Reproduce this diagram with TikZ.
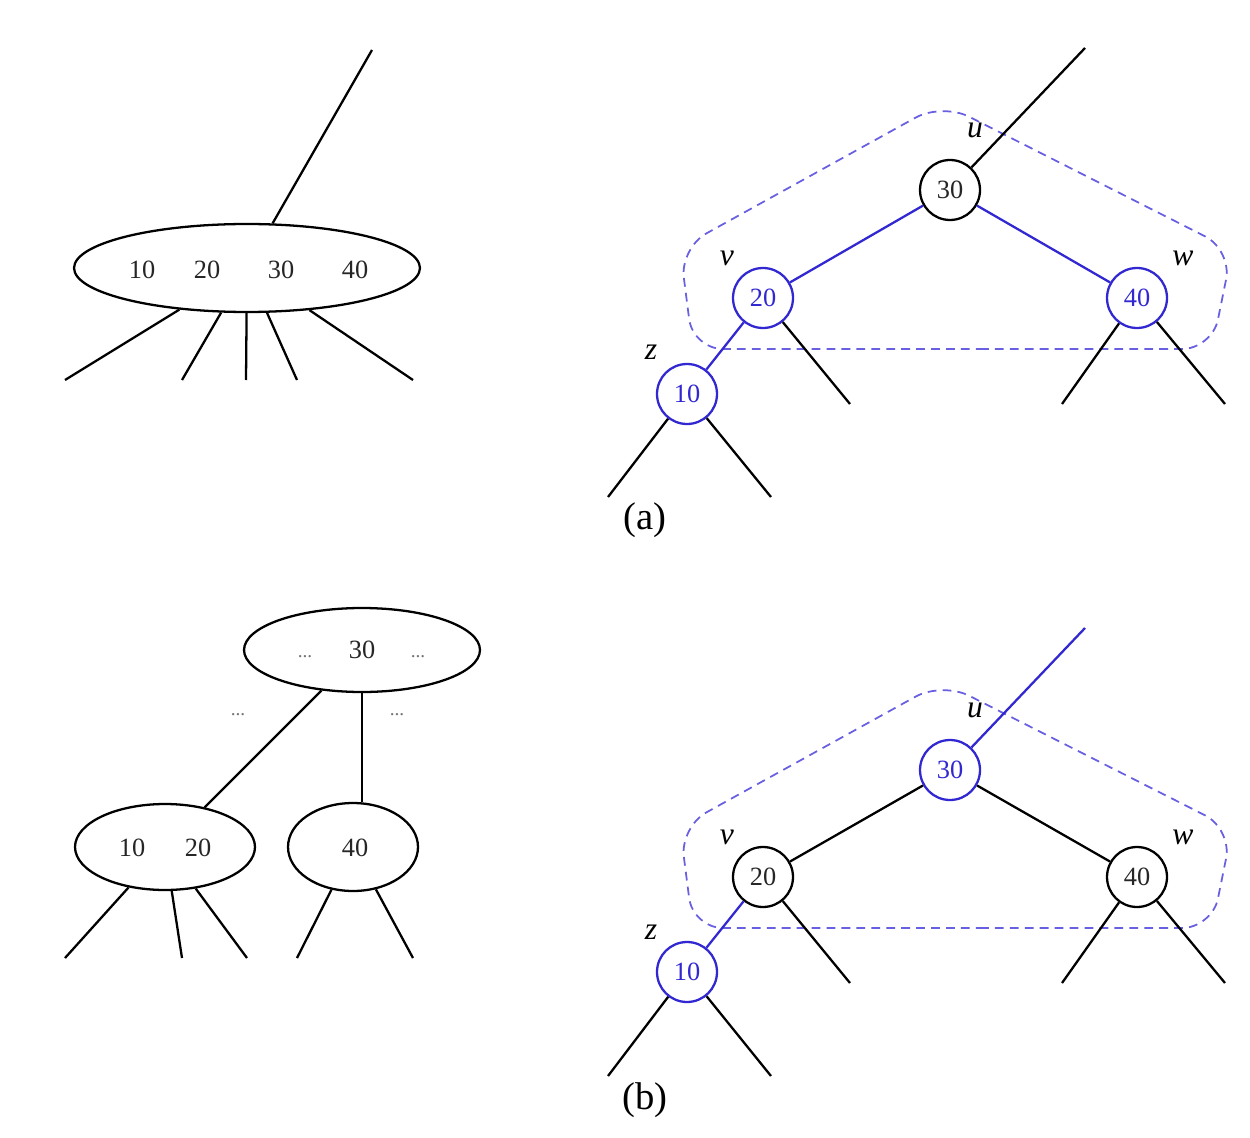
\documentclass[tikz,border=0pt]{standalone}
\usepackage{fontspec}
\setmainfont{Liberation Serif}
\usetikzlibrary{shapes.geometric}

\definecolor{treeblue}{RGB}{50,40,210}
\definecolor{dashblue}{RGB}{105,95,225}

\begin{document}
\begin{tikzpicture}[
  x=0.02cm, y=-0.02cm,
  numtxt/.style={font=\fontsize{15}{17}\selectfont, text=black!85, inner sep=0pt},
  dots/.style={font=\fontsize{11}{13}\selectfont, text=black!55, inner sep=0pt},
  bnode/.style={ellipse, draw, line width=1.3pt, inner sep=0pt},
  rb/.style={circle, draw, line width=1.3pt, minimum size=1.2cm, inner sep=0pt, fill=white, font=\fontsize{15}{17}\selectfont, text=black!85},
  hl/.style={draw=treeblue, text=treeblue},
  link/.style={line width=1.3pt},
  hllink/.style={link, draw=treeblue},
  lbl/.style={font=\fontsize{18}{20}\selectfont\itshape, inner sep=0pt},
  cluster/.style={draw=dashblue, dash pattern=on 5pt off 3.5pt, line width=1pt, rounded corners=0.6cm},
  subcap/.style={font=\fontsize{22}{24}\selectfont, inner sep=0pt}
]
  \useasboundingbox (0,0) rectangle (1250,1138);

  % (a) left: one 5-node
  \node[bnode, minimum width=6.92cm, minimum height=1.76cm] (big) at (247,268) {};
  \node[numtxt] at (142,270) {10};
  \node[numtxt] at (207,270) {20};
  \node[numtxt] at (281,270) {30};
  \node[numtxt] at (355,270) {40};
  \coordinate (bigp) at (372,50);
  \draw[link] (big) -- (bigp);
  \foreach \x [count=\i] in {65,182,246,297,413} {
    \coordinate (bigc\i) at (\x,380);
    \draw[link] (big) -- (bigc\i);
  }

  % (a) right: red-black tree
  \draw[cluster] (950,349) -- (1212,349) -- (1232,250) -- (942,103) -- (680,248) -- (693,349) -- cycle;
  \node[rb] (ua) at (950,190) {30};
  \node[rb, hl] (va) at (763,298) {20};
  \node[rb, hl] (wa) at (1137,298) {40};
  \node[rb, hl] (za) at (687,394) {10};
  \coordinate (pua) at (1085,48);
  \coordinate (vra) at (850,404);
  \coordinate (wla) at (1062,404);
  \coordinate (wra) at (1225,404);
  \coordinate (zla) at (608,497);
  \coordinate (zra) at (771,497);
  \draw[link] (ua) -- (pua);
  \draw[hllink] (ua) -- (va);
  \draw[hllink] (ua) -- (wa);
  \draw[hllink] (va) -- (za);
  \draw[link] (va) -- (vra);
  \draw[link] (wa) -- (wla);
  \draw[link] (wa) -- (wra);
  \draw[link] (za) -- (zla);
  \draw[link] (za) -- (zra);
  \node[lbl] at (975,130) {u};
  \node[lbl] at (727,258) {v};
  \node[lbl] at (1183,258) {w};
  \node[lbl] at (651,352) {z};
  \node[subcap] at (645,520) {(a)};

  % (b) left: split 2-3-4 nodes
  \node[bnode, minimum width=4.72cm, minimum height=1.68cm] (top) at (362,650) {};
  \node[dots] at (305,657) {...};
  \node[numtxt] at (362,650) {30};
  \node[dots] at (418,657) {...};
  \node[dots] at (238,715) {...};
  \node[dots] at (397,715) {...};
  \node[bnode, minimum width=3.6cm, minimum height=1.72cm] (pair) at (165,847) {};
  \node[numtxt] at (132,848) {10};
  \node[numtxt] at (198,848) {20};
  \node[bnode, minimum width=2.6cm, minimum height=1.76cm] (single) at (353,847) {};
  \node[numtxt] at (355,848) {40};
  \draw[link] (top) -- (pair);
  \draw[link] (top.south) -- (top.south |- single.north);
  \foreach \x [count=\i] in {65,182,247} {
    \coordinate (pairc\i) at (\x,958);
    \draw[link] (pair) -- (pairc\i);
  }
  \foreach \x [count=\i] in {297,413} {
    \coordinate (singlec\i) at (\x,958);
    \draw[link] (single) -- (singlec\i);
  }

  % (b) right: after recolouring
  \draw[cluster] (950,928) -- (1212,928) -- (1232,829) -- (942,682) -- (680,827) -- (693,928) -- cycle;
  \node[rb, hl] (ub) at (950,770) {30};
  \node[rb] (vb) at (763,877) {20};
  \node[rb] (wb) at (1137,877) {40};
  \node[rb, hl] (zb) at (687,972) {10};
  \coordinate (pub) at (1085,628);
  \coordinate (vrb) at (850,983);
  \coordinate (wlb) at (1062,983);
  \coordinate (wrb) at (1225,983);
  \coordinate (zlb) at (608,1076);
  \coordinate (zrb) at (771,1076);
  \draw[hllink] (ub) -- (pub);
  \draw[link] (ub) -- (vb);
  \draw[link] (ub) -- (wb);
  \draw[hllink] (vb) -- (zb);
  \draw[link] (vb) -- (vrb);
  \draw[link] (wb) -- (wlb);
  \draw[link] (wb) -- (wrb);
  \draw[link] (zb) -- (zlb);
  \draw[link] (zb) -- (zrb);
  \node[lbl] at (975,710) {u};
  \node[lbl] at (727,837) {v};
  \node[lbl] at (1183,837) {w};
  \node[lbl] at (651,932) {z};
  \node[subcap] at (645,1100) {(b)};
\end{tikzpicture}
\end{document}
